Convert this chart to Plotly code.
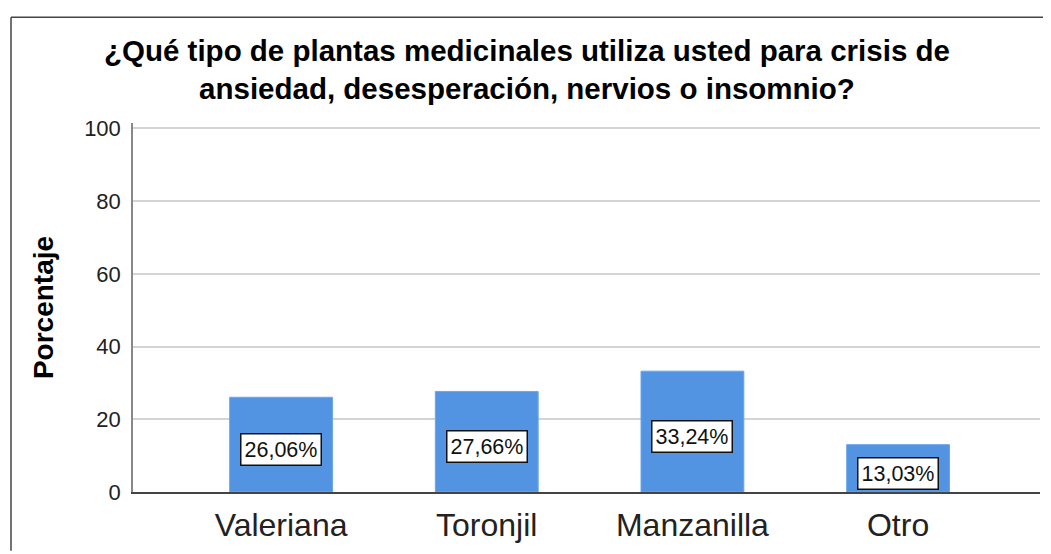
import plotly.graph_objects as go

categories = ["Valeriana", "Toronjil", "Manzanilla", "Otro"]
percentages = [26.06, 27.66, 33.24, 13.03]
y_ticks = [0, 20, 40, 60, 80, 100]
title_lines = ["¿Qué tipo de plantas medicinales utiliza usted para crisis de",
               "ansiedad, desesperación, nervios o insomnio?"]
y_title = "Porcentaje"

# page has an 8px body margin; work in page pixels and convert
OFF = 8
W, H = 1051 - OFF, 554 - OFF
# page-pixel positions of the plot area
PL, PR, PT, PB = 133, 1040, 123, 500
ML, MR, MT, MB = PL - OFF, (W + OFF) - PR, PT - OFF, (H + OFF) - PB
PW, PH = PR - PL, PB - PT


def px_to_paper_x(px):
    return (px - PL) / PW


def px_to_paper_y(py):
    return (PB - py) / PH


bar_color = "#5294E2"

fig = go.Figure()
fig.add_trace(go.Bar(
    x=list(range(len(categories))),
    y=percentages,
    width=0.5,
    marker=dict(color=bar_color, line=dict(color="#6aa6ea", width=1)),
    hoverinfo="skip",
))

annotations = []
for i, v in enumerate(percentages):
    annotations.append(dict(
        x=i, y=v / 2, xref="x", yref="y",
        text=f"{v:.2f}".replace(".", ",") + "%",
        showarrow=False,
        font=dict(family="Arial, Liberation Sans", size=21.5, color="#111"),
        bgcolor="white", bordercolor="#111", borderwidth=1.5, borderpad=3,
        yshift=-5,
    ))

annotations.append(dict(
    x=px_to_paper_x(527), y=px_to_paper_y(68), xref="paper", yref="paper",
    text="<br>".join(f"<b>{line}</b>" for line in title_lines),
    showarrow=False, xanchor="center", yanchor="middle", align="center",
    font=dict(family="Arial, Liberation Sans", size=29.5, color="#000"),
))

shapes = [
    dict(type="line", xref="paper", yref="paper",
         x0=px_to_paper_x(11), x1=px_to_paper_x(1060),
         y0=px_to_paper_y(15), y1=px_to_paper_y(15),
         line=dict(color="#444", width=1.5)),
    dict(type="line", xref="paper", yref="paper",
         x0=px_to_paper_x(11), x1=px_to_paper_x(11),
         y0=px_to_paper_y(15), y1=px_to_paper_y(560),
         line=dict(color="#444", width=1.5)),
]

fig.update_layout(
    width=W, height=H,
    margin=dict(l=ML, r=MR, t=MT, b=MB, pad=0),
    plot_bgcolor="white", paper_bgcolor="white",
    showlegend=False,
    annotations=annotations,
    shapes=shapes,
    font=dict(family="Arial, Liberation Sans", color="#222"),
    xaxis=dict(
        range=[-0.72, 3.69],
        tickmode="array", tickvals=list(range(len(categories))), ticktext=categories,
        tickfont=dict(size=32, color="#222"),
        showgrid=False, zeroline=False,
        showline=True, linecolor="#444", linewidth=1.5,
        ticks="", ticklabelstandoff=4,
    ),
    yaxis=dict(
        range=[0, 101.5],
        tickmode="array", tickvals=y_ticks,
        tickfont=dict(size=22, color="#222"),
        showgrid=True, gridcolor="#d4d4d4", gridwidth=2,
        zeroline=False,
        showline=True, linecolor="#888", linewidth=1.5,
        ticks="", ticklabelstandoff=6,
        title=dict(text=f"<b>{y_title}</b>", font=dict(size=28, color="#000"), standoff=22),
    ),
)

fig.write_html("out.html")
